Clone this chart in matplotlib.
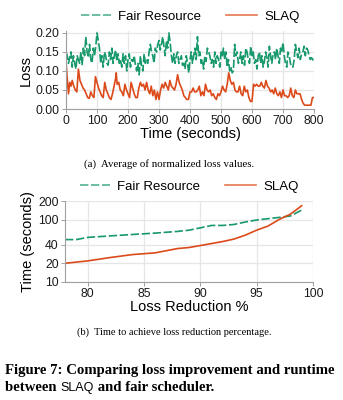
import numpy as np
import matplotlib.pyplot as plt
from matplotlib.ticker import FixedLocator, NullLocator

# ---- loss over time (top panel) ----
slaq_t = [0, 3, 8, 12, 16, 20, 25, 30, 35, 40, 45, 50, 55, 60, 65, 70, 75, 80, 85, 90,
          95, 100, 105, 110, 115, 120, 125, 130, 135, 140, 145, 150, 155, 160, 162, 165, 170, 175, 180, 185,
          190, 195, 200, 205, 210, 215, 220, 225, 230, 235, 240, 245, 250, 255, 260, 265, 270, 275, 280, 285,
          290, 295, 300, 305, 310, 315, 320, 325, 330, 335, 340, 345, 350, 355, 360, 365, 370, 375, 380, 385,
          390, 395, 400, 405, 410, 415, 420, 425, 430, 435, 440, 445, 450, 455, 460, 465, 470, 475, 480, 485,
          490, 495, 500, 505, 510, 515, 520, 525, 530, 535, 540, 545, 550, 555, 560, 565, 570, 575, 580, 585,
          590, 595, 600, 605, 610, 615, 620, 625, 630, 635, 640, 645, 650, 655, 660, 665, 670, 675, 680, 685,
          690, 695, 700, 705, 710, 715, 720, 725, 730, 735, 740, 745, 750, 755, 760, 765, 770, 780, 790, 795, 800]
slaq_loss = [0.125, 0.09, 0.04, 0.07, 0.06, 0.075, 0.06, 0.05, 0.045, 0.105, 0.075, 0.065, 0.055, 0.05, 0.04, 0.03, 0.028, 0.045, 0.035, 0.03,
             0.085, 0.07, 0.055, 0.045, 0.035, 0.03, 0.07, 0.05, 0.04, 0.03, 0.025, 0.04, 0.06, 0.08, 0.095, 0.065, 0.07, 0.05, 0.045, 0.035,
             0.065, 0.05, 0.04, 0.03, 0.07, 0.055, 0.04, 0.03, 0.03, 0.055, 0.07, 0.06, 0.065, 0.05, 0.07, 0.05, 0.04, 0.06, 0.035, 0.05,
             0.025, 0.045, 0.025, 0.05, 0.065, 0.055, 0.07, 0.06, 0.05, 0.075, 0.06, 0.055, 0.05, 0.065, 0.09, 0.07, 0.06, 0.05, 0.035, 0.03,
             0.025, 0.025, 0.045, 0.045, 0.055, 0.045, 0.045, 0.05, 0.06, 0.035, 0.045, 0.035, 0.065, 0.05, 0.045, 0.05, 0.035, 0.04, 0.03, 0.025,
             0.04, 0.035, 0.045, 0.06, 0.05, 0.045, 0.065, 0.095, 0.075, 0.065, 0.07, 0.05, 0.045, 0.045, 0.06, 0.04, 0.035, 0.06, 0.045, 0.05,
             0.03, 0.02, 0.02, 0.065, 0.06, 0.065, 0.06, 0.06, 0.07, 0.06, 0.055, 0.075, 0.06, 0.055, 0.045, 0.05, 0.04, 0.055, 0.04, 0.035,
             0.045, 0.03, 0.05, 0.035, 0.035, 0.03, 0.035, 0.055, 0.035, 0.03, 0.05, 0.04, 0.04, 0.04, 0.025, 0.015, 0.01, 0.01, 0.01, 0.03, 0.03]

fair_t = list(range(0, 800, 4)) + [800]
fair_loss = [0.15, 0.14, 0.12, 0.135, 0.15, 0.11, 0.14, 0.12, 0.105, 0.14, 0.13, 0.12, 0.15, 0.115, 0.16, 0.14, 0.19, 0.15, 0.135, 0.17,
             0.13, 0.12, 0.16, 0.14, 0.165, 0.2, 0.18, 0.16, 0.12, 0.14, 0.11, 0.15, 0.14, 0.12, 0.115, 0.15, 0.13, 0.16, 0.12, 0.14,
             0.155, 0.125, 0.145, 0.12, 0.13, 0.11, 0.145, 0.12, 0.14, 0.1, 0.13, 0.145, 0.11, 0.13, 0.125, 0.14, 0.115, 0.1, 0.12, 0.09,
             0.14, 0.11, 0.1, 0.145, 0.12, 0.13, 0.12, 0.15, 0.17, 0.15, 0.14, 0.12, 0.16, 0.15, 0.17, 0.18, 0.155, 0.17, 0.19, 0.165,
             0.14, 0.18, 0.16, 0.2, 0.175, 0.14, 0.12, 0.145, 0.12, 0.14, 0.15, 0.12, 0.13, 0.14, 0.115, 0.12, 0.105, 0.14, 0.12, 0.095,
             0.13, 0.15, 0.12, 0.14, 0.16, 0.13, 0.19, 0.14, 0.15, 0.12, 0.13, 0.105, 0.14, 0.125, 0.16, 0.15, 0.14, 0.12, 0.13, 0.11,
             0.15, 0.12, 0.14, 0.13, 0.11, 0.15, 0.14, 0.16, 0.13, 0.15, 0.11, 0.13, 0.1, 0.11, 0.095, 0.1, 0.17, 0.14, 0.15, 0.12,
             0.13, 0.15, 0.12, 0.14, 0.115, 0.16, 0.15, 0.13, 0.12, 0.165, 0.14, 0.15, 0.12, 0.13, 0.105, 0.14, 0.15, 0.12, 0.14, 0.11,
             0.125, 0.15, 0.135, 0.11, 0.165, 0.14, 0.12, 0.145, 0.15, 0.13, 0.16, 0.14, 0.12, 0.16, 0.15, 0.175, 0.14, 0.12, 0.11, 0.15,
             0.14, 0.12, 0.11, 0.11, 0.13, 0.17, 0.15, 0.135, 0.16, 0.13, 0.145, 0.15, 0.165, 0.14, 0.16, 0.155, 0.14, 0.13, 0.135, 0.13, 0.125]

# ---- time to reach loss reduction (bottom panel) ----
fair_red = [78, 79, 80, 82, 84, 86, 88, 89, 90, 91, 92, 93, 94, 95, 96, 97, 98, 99]
fair_time = [48, 48, 52, 55, 58, 61, 65, 68, 74, 81, 81, 84, 92, 99, 104, 109, 115, 143]
slaq_red = [78, 80, 82, 84, 86, 88, 89, 90, 91, 92, 93, 94, 95, 96, 97, 98, 99]
slaq_time = [20, 21.8, 24.7, 27.6, 29.4, 34.5, 35.8, 38.5, 41.5, 44.7, 49, 56.6, 68, 79, 101, 123, 168]

GREEN = '#18996b'
RED = '#dc4a1a'
GRID = '#e6e6e6'
SPINE = '#a0a0a0'

plt.rcParams['font.family'] = ['Liberation Sans', 'DejaVu Sans']

fig = plt.figure(figsize=(3.43, 4.0), dpi=100)
W, H = 343.0, 400.0

def style(ax):
    for s in ('top', 'right'):
        ax.spines[s].set_visible(False)
    for s in ('left', 'bottom'):
        ax.spines[s].set_color(SPINE)
        ax.spines[s].set_linewidth(0.8)
    ax.grid(True, color=GRID, linewidth=0.9)
    ax.set_axisbelow(True)
    ax.tick_params(labelsize=8.8, length=3, width=0.7, color=SPINE, pad=1.5, labelcolor='#1a1a1a')

def add_legend(ax):
    leg = ax.legend(loc='lower center', bbox_to_anchor=(0.5, 1.0), ncol=2, frameon=False,
                    fontsize=9.5, handlelength=2.3, handletextpad=0.55, columnspacing=1.9,
                    borderaxespad=0.2)
    for h in leg.get_lines():
        h.set_alpha(0.75)
    return leg

# top: loss values
ax1 = fig.add_axes([66 / W, 1 - 109 / H, 248 / W, 78 / H])
style(ax1)
ax1.plot(fair_t, fair_loss, color=GREEN, lw=1.2, dashes=(5, 1.6), label='Fair Resource')
ax1.plot(slaq_t, slaq_loss, color=RED, lw=1.2, label='SLAQ')
ax1.set_xlim(0, 800)
ax1.set_ylim(0, 0.205)
ax1.set_xticks(np.arange(0, 801, 100))
ax1.set_yticks([0.0, 0.05, 0.10, 0.15, 0.20])
ax1.set_yticklabels(['0.00', '0.05', '0.10', '0.15', '0.20'])
ax1.set_xlabel('Time (seconds)', fontsize=10.5, labelpad=0)
ax1.set_ylabel('Loss', fontsize=10.5, labelpad=2)
add_legend(ax1)

serif = ['Liberation Serif', 'DejaVu Serif']
fig.text(169 / W, 1 - 164 / H, '(a)  Average of normalized loss values.',
         family=serif, fontsize=7.8, ha='center', va='center')

# bottom: time vs loss reduction
ax2 = fig.add_axes([65 / W, 1 - 282 / H, 248 / W, 81 / H])
style(ax2)
ax2.plot(fair_red, fair_time, color=GREEN, lw=1.2, dashes=(5, 1.6), label='Fair Resource')
ax2.plot(slaq_red, slaq_time, color=RED, lw=1.2, label='SLAQ')
ax2.set_yscale('log')
ax2.set_xlim(78, 100)
ax2.set_ylim(10, 200)
ax2.set_xticks([80, 85, 90, 95, 100])
ax2.yaxis.set_major_locator(FixedLocator([10, 20, 40, 100, 200]))
ax2.yaxis.set_minor_locator(NullLocator())
ax2.set_yticklabels(['10', '20', '40', '100', '200'])
ax2.set_xlabel('Loss Reduction %', fontsize=10.5, labelpad=0)
ax2.set_ylabel('Time (seconds)', fontsize=10.5, labelpad=2)
add_legend(ax2)

fig.text(174 / W, 1 - 332 / H, '(b)  Time to achieve loss reduction percentage.',
         family=serif, fontsize=7.5, ha='center', va='center')

# figure caption, bold serif with a sans "SLAQ"
fig.text(5 / W, 1 - 374 / H, 'Figure 7: Comparing loss improvement and runtime',
         family=serif, fontsize=10.6, weight='bold', ha='left', va='baseline')
renderer = fig.canvas.get_renderer()
x = 5 / W
for txt, kw in [('between ', dict(family=serif, weight='bold', fontsize=10.6)),
                ('SLAQ', dict(family=['Liberation Sans'], fontsize=9)),
                (' and fair scheduler.', dict(family=serif, weight='bold', fontsize=10.6))]:
    t = fig.text(x, 1 - 391 / H, txt, ha='left', va='baseline', **kw)
    bb = t.get_window_extent(renderer)
    x += bb.width / fig.bbox.width

fig.savefig('out.png', dpi=100)
